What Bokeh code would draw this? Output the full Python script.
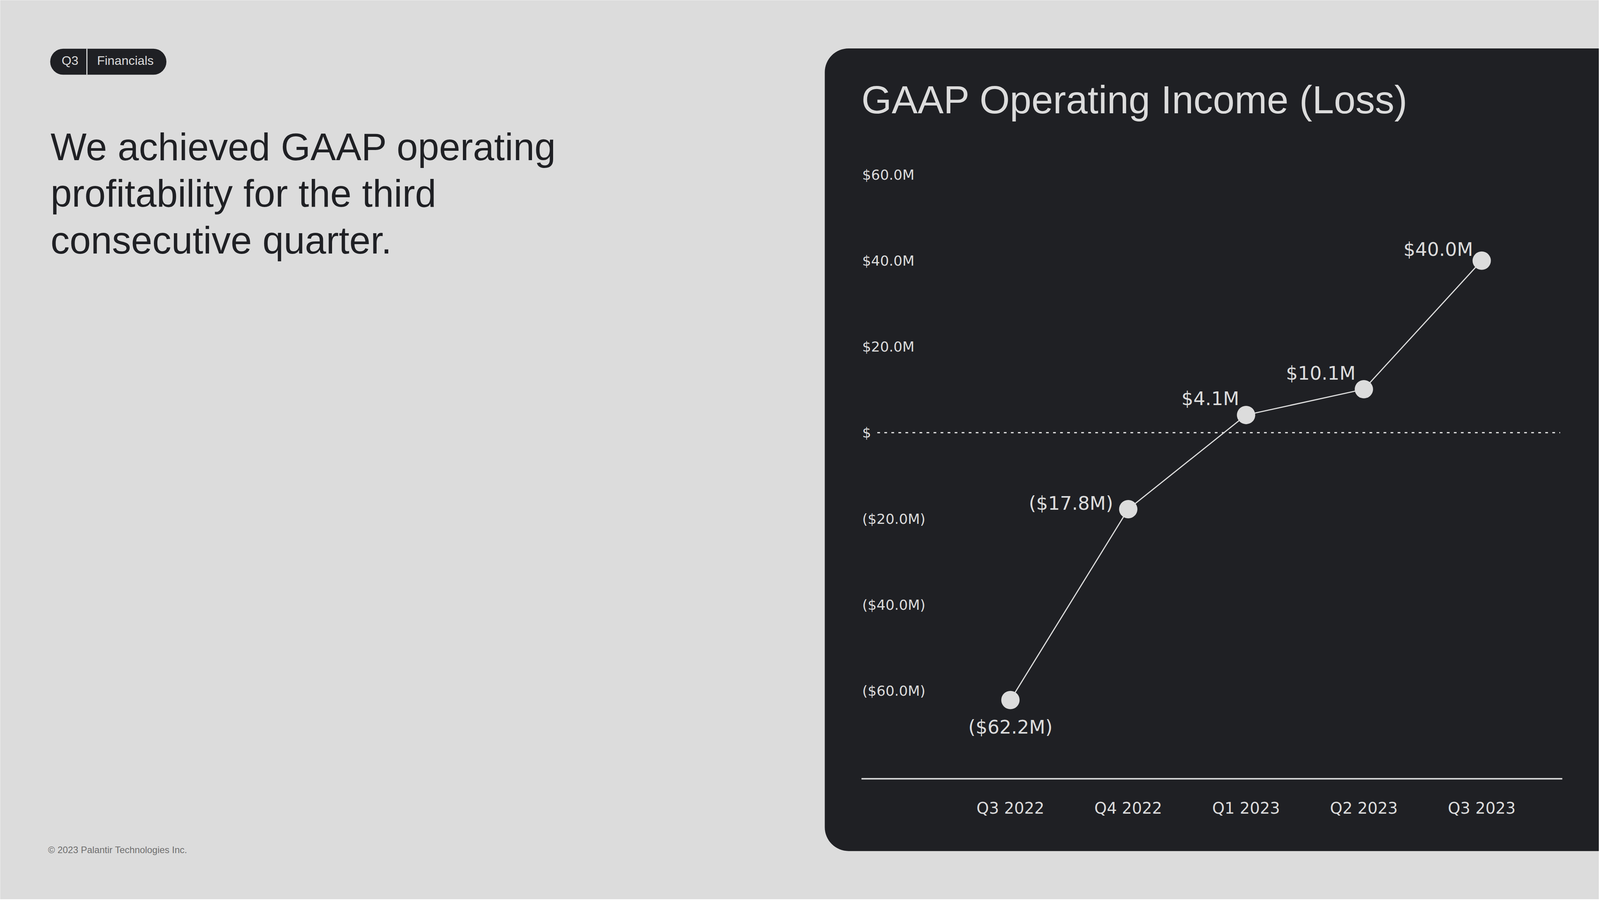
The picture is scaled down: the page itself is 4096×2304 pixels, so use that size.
from bokeh.plotting import figure
from bokeh.models import Range1d
from bokeh.core.properties import value
from bokeh.embed import file_html
from bokeh.resources import INLINE

# ---------------- data ----------------
quarters = ["Q3 2022", "Q4 2022", "Q1 2023", "Q2 2023", "Q3 2023"]
income = [-62.2, -17.8, 4.1, 10.1, 40.0]
value_labels = ["($62.2M)", "($17.8M)", "$4.1M", "$10.1M", "$40.0M"]
y_ticks = [60, 40, 20, 0, -20, -40, -60]
y_tick_labels = ["$60.0M", "$40.0M", "$20.0M", "$", "($20.0M)", "($40.0M)", "($60.0M)"]
title = "GAAP Operating Income (Loss)"
headline = ["We achieved GAAP operating", "profitability for the third", "consecutive quarter."]
badge = ["Q3", "Financials"]
footer = "\u00a9 2023 Palantir Technologies Inc."

# ---------------- layout (reference px -> output px) ----------------
S = 0.921
W, H = 4093, 2302
K = 0.36   # rendered baseline sits K*em below the given y


def P(v):
    return v * S


def F(v):
    return v * S


def BL(baseline, size):
    # y to give so that the text baseline lands at reference 'baseline'
    return P(baseline) - K * F(size)


BG = "#dcdcdc"
DARK = "#1f2024"
LIGHT = "#dcdcdc"

# chart mapping in reference px
X0, DX = 2808.0, 327.5          # first category position, spacing
Y0, PPM = 1202.0, 11.95         # zero line position, px per $M

idx = list(range(len(quarters)))
x_start = (0 - P(X0)) / (DX * S)
x_end = (W - P(X0)) / (DX * S)
y_top = Y0 / PPM
y_bot = (Y0 - H / S) / PPM

p = figure(width=W, height=H, x_range=Range1d(x_start, x_end), y_range=Range1d(y_bot, y_top),
           output_backend="svg", toolbar_location=None, min_border=0,
           x_axis_location=None, y_axis_location=None)
p.extra_x_ranges = {"px": Range1d(0, W)}
p.extra_y_ranges = {"py": Range1d(H, 0)}
p.xgrid.visible = False
p.ygrid.visible = False
p.outline_line_color = None
p.background_fill_color = BG
p.border_fill_color = BG

PX = dict(x_range_name="px", y_range_name="py")
SANS = value("Liberation Sans")
NUM = value("DejaVu Sans")

# dark panel
p.quad(left=[P(2292)], right=[W + 300], top=[P(134)], bottom=[P(2365)],
       border_radius=int(round(F(66))), fill_color=DARK, line_color=None, **PX)

# badge
p.quad(left=[P(139)], right=[P(462)], top=[P(135)], bottom=[P(207)],
       border_radius=int(round(F(36))), fill_color=DARK, line_color=None, **PX)
p.segment(x0=[P(241)], y0=[P(135)], x1=[P(241)], y1=[P(207)], line_color=BG, line_width=F(3), **PX)
p.text(x=[P(194), P(348)], y=[BL(180, 35)] * 2, text=badge, text_font=SANS,
       text_font_size=f"{F(35):.1f}px", text_color=LIGHT, text_align="center",
       text_baseline="alphabetic", **PX)

# headline
p.text(x=[P(140)] * 3, y=[BL(446, 106), BL(576, 106), BL(706, 106)], text=headline, text_font=SANS,
       text_font_size=f"{F(106):.1f}px", text_color=DARK, text_align="left",
       text_baseline="alphabetic", **PX)

# footer
p.text(x=[P(133)], y=[BL(2371, 26)], text=[footer], text_font=SANS,
       text_font_size=f"{F(26):.1f}px", text_color="#6e6e6e", text_align="left",
       text_baseline="alphabetic", **PX)

# chart title
p.text(x=[P(2394)], y=[BL(316, 108)], text=[title], text_font=SANS,
       text_font_size=f"{F(108):.1f}px", text_color=LIGHT, text_align="left",
       text_baseline="alphabetic", **PX)

# y tick labels (left aligned, at tick values)
p.text(x=[P(2396)] * len(y_ticks), y=y_ticks, text=y_tick_labels, text_font=NUM,
       text_font_size=f"{F(39):.1f}px", text_color=LIGHT, text_align="left",
       text_baseline="alphabetic", y_offset=F(14.5) - K * F(39), x_range_name="px")

# zero dotted line
p.segment(x0=[P(2438)], x1=[P(4336)], y0=[0], y1=[0], line_color=LIGHT,
          line_width=F(3.5), line_dash="7 11", x_range_name="px")

# bottom axis line
p.segment(x0=[P(2394)], x1=[P(4342)], y0=[P(2164)], y1=[P(2164)], line_color=LIGHT,
          line_width=F(4), **PX)

# x category labels
p.text(x=idx, y=[BL(2262, 44)] * len(idx), text=quarters, text_font=NUM,
       text_font_size=f"{F(44):.1f}px", text_color=LIGHT, text_align="center",
       text_baseline="alphabetic", y_range_name="py")

# series
p.line(x=idx, y=income, line_color=LIGHT, line_width=F(3.2))
p.scatter(x=idx, y=income, size=F(51), fill_color=LIGHT, line_color=None)

# value labels
LBL = 52
p.text(x=idx[:1], y=income[:1], text=value_labels[:1], text_font=NUM,
       text_font_size=f"{F(LBL):.1f}px", text_color=LIGHT, text_align="center",
       text_baseline="alphabetic", y_offset=F(94) - K * F(LBL))
dxs = [-42, -19, -23, -24]
dys = [3, -27, -26, -13]
p.text(x=idx[1:], y=income[1:], text=value_labels[1:], text_font=NUM,
       text_font_size=f"{F(LBL):.1f}px", text_color=LIGHT, text_align="right",
       text_baseline="alphabetic", x_offset=[F(v) for v in dxs],
       y_offset=[F(v) - K * F(LBL) for v in dys])

open("out.html", "w").write(file_html(p, INLINE))
